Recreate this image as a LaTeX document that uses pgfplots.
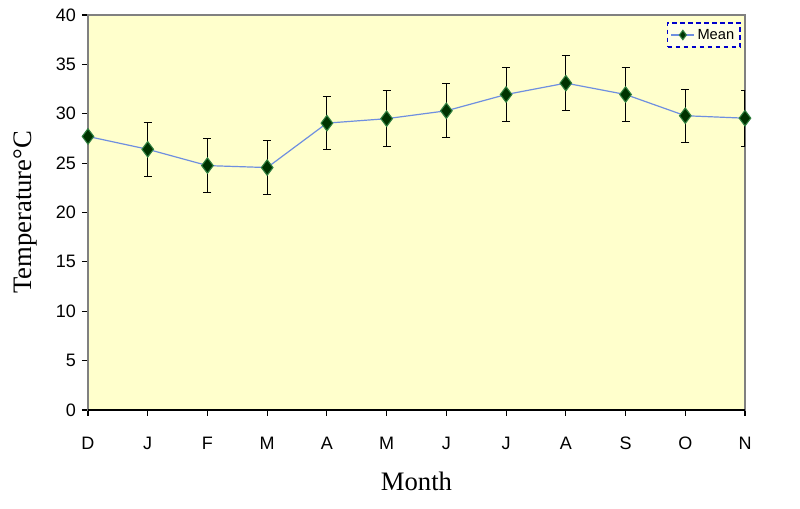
\documentclass[border=0pt]{standalone}
\usepackage{pgfplots}
\pgfplotsset{compat=1.18}
\usepackage{pgfplotstable}
\usepackage{fontspec}
\setmainfont{Liberation Serif}
\newfontfamily\arial{Liberation Sans}
\usetikzlibrary{calc}
\definecolor{bgyellow}{HTML}{FFFFCC}
\definecolor{lineblue}{HTML}{6F8FE0}
\definecolor{mkgreen}{HTML}{003300}
\definecolor{mkedge}{HTML}{2F7F3F}
\definecolor{axgray}{HTML}{808080}

\pgfplotstableread{
x  y     e
0  27.7  0
1  26.4  2.75
2  24.75 2.7
3  24.55 2.75
4  29.05 2.65
5  29.5  2.85
6  30.3  2.75
7  31.95 2.7
8  33.1  2.8
9  31.95 2.7
10 29.8  2.7
11 29.55 2.85
}\datatable

\begin{document}
\begin{tikzpicture}
\begin{axis}[
  scale only axis,
  width=492.75pt, height=296.25pt,
  xmin=0, xmax=11, ymin=0, ymax=40,
  xtick={0,...,11},
  xticklabels={D,J,F,M,A,M,J,J,A,S,O,N},
  ytick={0,5,...,40},
  xtick pos=bottom, ytick pos=left,
  tick align=outside,
  major tick length=4.5pt,
  tick style={black, line width=0.8pt},
  axis line style={axgray, line width=0.8pt},
  axis background/.style={fill=bgyellow},
  ticklabel style={font=\arial\fontsize{13.5}{15}\selectfont},
  /pgf/number format/assume math mode=true,
  xticklabel style={yshift=-12pt},
  yticklabel style={xshift=-1pt},
  xlabel={Month}, ylabel={Temperature°C},
  label style={font=\fontsize{20}{23}\selectfont},
  xlabel style={yshift=-10pt},
  ylabel style={yshift=7pt},
  legend style={at={(rel axis cs:0.994,0.982)}, anchor=north east,
    draw=blue!80!black, line width=1.3pt, dash pattern=on 3.5pt off 2.5pt,
    fill=bgyellow!50!white, font=\arial\fontsize{11}{13}\selectfont,
    inner sep=2.5pt, row sep=0pt},
  legend image post style={mark size=3.5pt},
  legend cell align=left,
]
\addplot[solid, lineblue, line width=0.9pt,
  mark=diamond*, mark size=5.8pt,
  mark options={solid, fill=mkgreen, draw=mkedge, line width=0.8pt},
  error bars/.cd, y dir=both, y explicit,
  error bar style={solid, black, line width=0.8pt},
  error mark options={rotate=90, black, mark size=3pt, line width=0.8pt}]
  table[x=x, y=y, y error=e]{\datatable};
\addlegendentry{Mean}
\coordinate (sw) at (rel axis cs:0,0);
\coordinate (ne) at (rel axis cs:1,1);
\end{axis}
\draw[black, line width=1pt] (sw) -- (sw -| ne);
\path ($(sw)+(-66pt,-74.25pt)$) rectangle ($(ne)+(41.25pt,11.25pt)$);
\end{tikzpicture}
\end{document}
